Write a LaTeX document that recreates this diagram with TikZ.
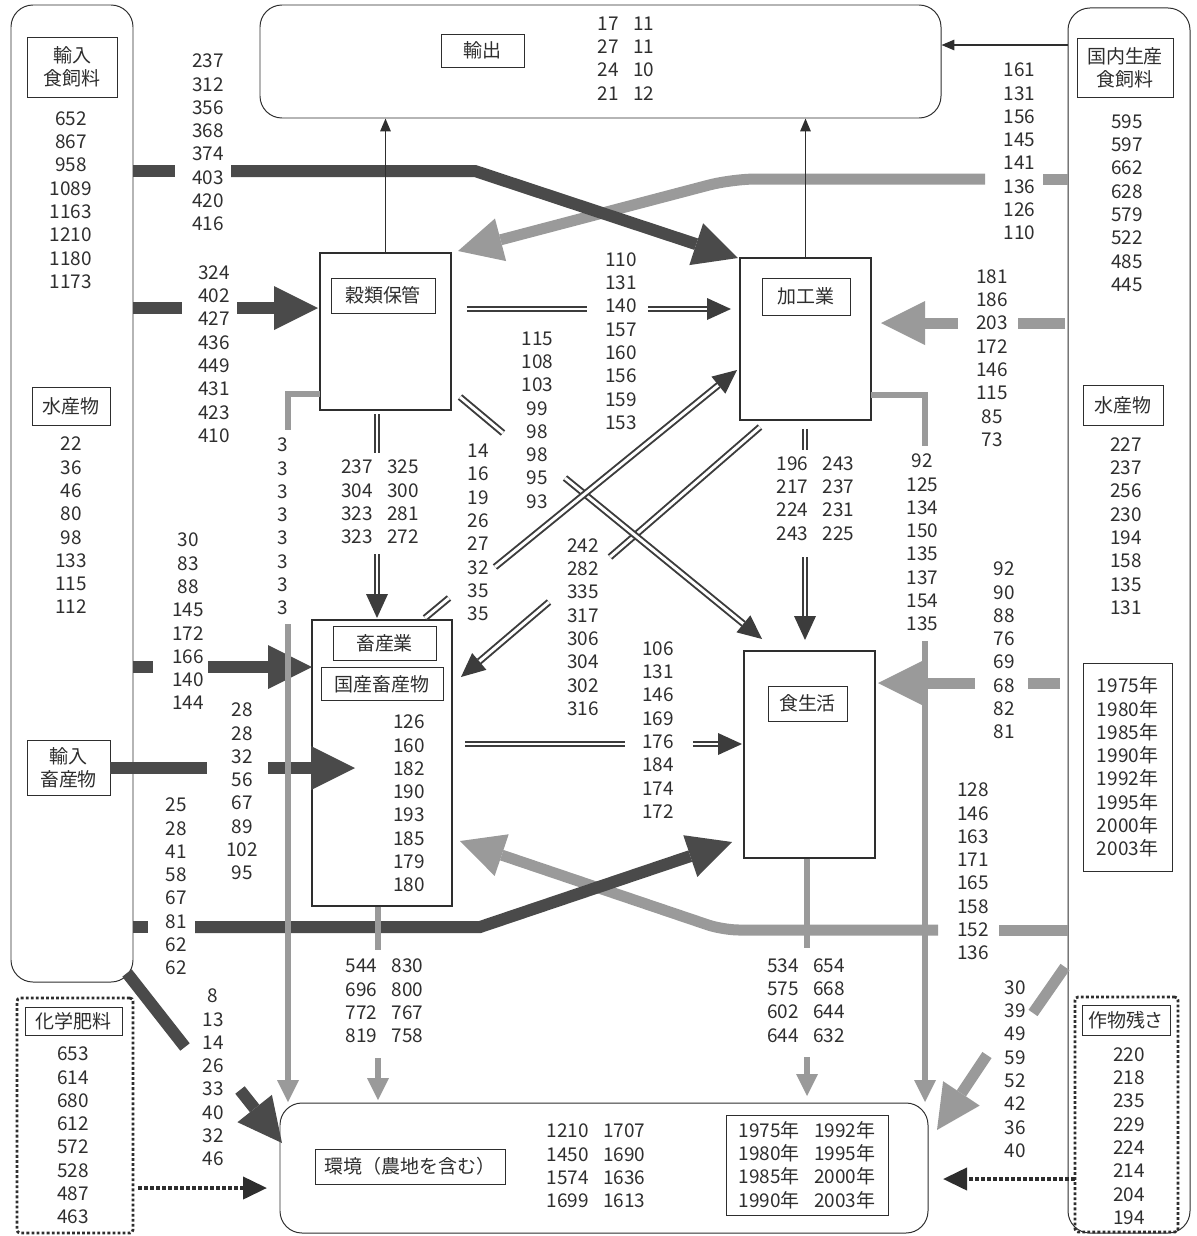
\documentclass[tikz,border=0pt]{standalone}
\usepackage{fontspec}
\setmainfont{Noto Sans CJK JP}
\usepackage{tikz}
\usetikzlibrary{arrows.meta}
\definecolor{ink}{HTML}{2E2E2E}
\definecolor{dkband}{HTML}{4A4A4A}
\definecolor{ltband}{HTML}{9A9A9A}
\definecolor{dblink}{HTML}{3C3C3C}
\newcommand{\colgap}{\hspace{0.75em}}

\begin{document}
\begin{tikzpicture}[x=0.25mm,y=-0.25mm,
  every node/.style={font=\fontsize{13.5}{16.57}\selectfont,text=ink,inner sep=0pt},
  nums/.style={align=center},
  panel/.style={draw=ink,line width=0.7pt,rounded corners=5.5mm},
  dotbox/.style={draw=ink,line width=2pt,dash pattern=on 2pt off 1.6pt,rounded corners=0.8mm},
  stage/.style={draw=ink,line width=1pt},
  tag/.style={draw=ink,line width=0.6pt,align=center},
  darkband/.style={dkband,line width=3mm},
  greyband/.style={ltband,line width=2.75mm},
  greyline/.style={ltband,line width=1.6mm},
  dblflow/.style={draw=dblink,double=white,line width=1.4pt,double distance=2.1pt},
  thinflow/.style={ink,line width=1pt,-{Triangle[length=3.2mm,width=2.6mm]}},
  dotflow/.style={ink,line width=1mm,dash pattern=on 0.9mm off 0.6mm,-{Triangle[length=6mm,width=5.5mm]}},
  bigtip/.style={-{Triangle[length=11mm,width=11mm,line width=0pt]}},
  midtip/.style={-{Triangle[length=6mm,width=5.5mm,line width=0pt]}},
  smalltip/.style={-{Triangle[length=5.5mm,width=5.5mm,line width=0pt]}}]
\useasboundingbox (0,0) rectangle (1197,1236);

\node[panel,minimum width=30.5mm,minimum height=244.25mm] (impL) at (72,493.5) {};
\node[panel,minimum width=170.25mm,minimum height=28.25mm] (expT) at (600.5,61.5) {};
\node[panel,minimum width=30.5mm,minimum height=306.25mm] (domR) at (1129,620.5) {};
\node[panel,minimum width=162mm,minimum height=32.5mm] (env) at (604,1168) {};
\node[dotbox,minimum width=29mm,minimum height=58.75mm] (chem) at (75,1115.5) {};
\node[dotbox,minimum width=25.75mm,minimum height=58.75mm] (resid) at (1126.5,1114.5) {};

\node[stage,minimum width=32.75mm,minimum height=39.25mm] (grain) at (385.5,331.5) {};
\node[stage,minimum width=32.75mm,minimum height=40.5mm] (proc) at (805.5,339) {};
\node[stage,minimum width=35mm,minimum height=71.5mm] (live) at (382,763) {};
\node[stage,minimum width=32.75mm,minimum height=51.75mm] (diet) at (809.5,754.5) {};

\node[tag,minimum width=22.5mm,minimum height=15mm] (impfeedL) at (72,67) {輸入\\食飼料};
\node[tag,minimum width=19.5mm,minimum height=9.5mm] (fishL) at (71,406) {水産物};
\node[tag,minimum width=20.75mm,minimum height=13.75mm] (impliveL) at (68.5,767.5) {輸入\\畜産物};
\node[tag,minimum width=20.75mm,minimum height=8.25mm] (exportL) at (482.5,50.5) {輸出};
\node[tag,minimum width=24mm,minimum height=14.75mm] (domfeedL) at (1125,67.5) {国内生産\\食飼料};
\node[tag,minimum width=20mm,minimum height=10mm] (fishR) at (1123,405) {水産物};
\node[tag,minimum width=22mm,minimum height=7.5mm] (residL) at (1126,1020) {作物残さ};
\node[tag,minimum width=24.25mm,minimum height=7mm] (chemL) at (73.5,1021) {化学肥料};
\node[tag,minimum width=26mm,minimum height=8.75mm] (grainL) at (383,295.5) {穀類保管};
\node[tag,minimum width=22mm,minimum height=9.25mm] (procL) at (806,296.5) {加工業};
\node[tag,minimum width=25.75mm,minimum height=8.5mm] (liveL) at (384.5,643) {畜産業};
\node[tag,minimum width=30.5mm,minimum height=8.25mm] (domliveL) at (382,684) {国産畜産物};
\node[tag,minimum width=19.75mm,minimum height=8.75mm] (dietL) at (807.5,703.5) {食生活};
\node[tag,minimum width=47.5mm,minimum height=8.75mm] (envL) at (410,1166.5) {環境（農地を含む）};
\node[tag,minimum width=22.25mm,minimum height=52mm] (legR) at (1127.5,767) {1975年\\1980年\\1985年\\1990年\\1992年\\1995年\\2000年\\2003年};
\node[tag,minimum width=40.5mm,minimum height=25mm] (legE) at (807,1165) {1975年\colgap1992年\\1980年\colgap1995年\\1985年\colgap2000年\\1990年\colgap2003年};

\path (175,171) coordinate (d1b) (231,171) coordinate (d1c) (475,171) coordinate (d1d) (738,258) coordinate (d1e)
      (182,308) coordinate (d2b) (237,308) coordinate (d2c) (318,308) coordinate (d2d)
      (153,667) coordinate (d3b) (208,667) coordinate (d3c) (312,667) coordinate (d3d)
      (207,768) coordinate (d4b) (268,768) coordinate (d4c) (355,768) coordinate (d4d)
      (148,927) coordinate (d5b) (195,927) coordinate (d5c) (480,927) coordinate (d5d) (732,842) coordinate (d5e)
      (127,973) coordinate (d6a) (185,1047) coordinate (d6b) (240,1090) coordinate (d6c) (282,1143) coordinate (d6d);
\path (1043,179) coordinate (g1b) (985,179) coordinate (g1c) (732,179) coordinate (g1d) (458,251) coordinate (g1e)
      (1065,323) coordinate (g2a) (1018,323) coordinate (g2b) (958,323) coordinate (g2c) (881,323) coordinate (g2d)
      (1060,683) coordinate (g3a) (1028,683) coordinate (g3b) (975,683) coordinate (g3c) (878,683) coordinate (g3d)
      (999,930) coordinate (g4b) (938,930) coordinate (g4c) (723,930) coordinate (g4d) (460,841) coordinate (g4e)
      (1065,967) coordinate (g5a) (1033,1013) coordinate (g5b) (987,1055) coordinate (g5c) (937,1130) coordinate (g5d);
\path (320,394) coordinate (l1a) (288,430) coordinate (l1b) (288,624) coordinate (l1c) (288,1102) coordinate (l1d)
      (871,395) coordinate (l2a) (925,446) coordinate (l2b) (925,641) coordinate (l2c) (925,1102) coordinate (l2d)
      (378,950) coordinate (l3b) (378,1058) coordinate (l3c) (378,1100) coordinate (l3d)
      (807,948) coordinate (l4b) (807,1057) coordinate (l4c) (807,1096) coordinate (l4d);
\path (467,309) coordinate (b1a) (587,309) coordinate (b1b) (648,309) coordinate (b1c) (731,309) coordinate (b1d)
      (377,414) coordinate (b2a) (377,453) coordinate (b2b) (377,554) coordinate (b2c) (377,618) coordinate (b2d)
      (460,397) coordinate (b3a) (503,433) coordinate (b3b) (565,478) coordinate (b3c) (762,639) coordinate (b3d)
      (425,618) coordinate (b4a) (449,598) coordinate (b4b) (495,567) coordinate (b4c) (737,370) coordinate (b4d)
      (760,427) coordinate (b5a) (610,557) coordinate (b5b) (549,602) coordinate (b5c) (461,677) coordinate (b5d)
      (805,429) coordinate (b6a) (805,450) coordinate (b6b) (805,557) coordinate (b6c) (805,640) coordinate (b6d)
      (465,744) coordinate (b7a) (625,744) coordinate (b7b) (693,744) coordinate (b7c) (742,744) coordinate (b7d);
\path (1000,45) coordinate (t3) (138,1188) coordinate (p1a) (267,1188) coordinate (p1b)
      (1075,1179) coordinate (p2a) (943,1179) coordinate (p2b);

\foreach \a in {g1b,g4b}{\draw[greyband] (domR.west |- \a)--(\a);}
\foreach \a/\b in {g2a/g2b,g3a/g3b,g5a/g5b}{\draw[greyband] (\a)--(\b);}
\draw[greyband,bigtip,rounded corners=6mm] (g1c)--(g1d)--(g1e);
\draw[greyband,bigtip] (g2c)--(g2d);
\draw[greyband,bigtip] (g3c)--(g3d);
\draw[greyband,bigtip,rounded corners=4mm] (g4c)--(g4d)--(g4e);
\draw[greyband,bigtip] (g5c)--(g5d);

\foreach \a in {d1b,d2b,d3b,d5b}{\draw[darkband] (impL.east |- \a)--(\a);}
\draw[darkband] (impliveL.east |- d4b)--(d4b);
\draw[darkband] (d6a)--(d6b);
\draw[darkband,bigtip] (d1c)--(d1d)--(d1e);
\draw[darkband,bigtip] (d2c)--(d2d);
\draw[darkband,bigtip] (d3c)--(d3d);
\draw[darkband,bigtip] (d4c)--(d4d);
\draw[darkband,bigtip] (d5c)--(d5d)--(d5e);
\draw[darkband,bigtip] (d6c)--(d6d);

\foreach \a/\b in {b1a/b1b,b2a/b2b,b3a/b3b,b4a/b4b,b5a/b5b,b6a/b6b,b7a/b7b}{\draw[dblflow] (\a)--(\b);}
\foreach \a/\b in {b1c/b1d,b2c/b2d,b3c/b3d,b4c/b4d,b5c/b5d,b6c/b6d,b7c/b7d}{\draw[dblflow,midtip] (\a)--(\b);}

\draw[thinflow] (grain.north) -- (grain.north |- expT.south);
\draw[thinflow] (proc.north) -- (proc.north |- expT.south);
\draw[thinflow] (domR.west |- t3) -- (expT.east |- t3);

\draw[greyline] (l1a) -| (l1b);
\draw[greyline,smalltip] (l1c) -- (l1d);
\draw[greyline] (l2a) -| (l2b);
\draw[greyline,smalltip] (l2c) -- (l2d);
\draw[greyline] (live.south -| l3b) -- (l3b);
\draw[greyline,smalltip] (l3c) -- (l3d);
\draw[greyline] (diet.south -| l4b) -- (l4b);
\draw[greyline,smalltip] (l4c) -- (l4d);

\draw[dotflow] (p1a) -- (p1b);
\draw[dotflow] (p2a) -- (p2b);

\node[nums] (nImpFeed) at (71,200) {652\\867\\958\\1089\\1163\\1210\\1180\\1173};
\node[nums] (nImpFish) at (71,525.5) {22\\36\\46\\80\\98\\133\\115\\112};
\node[nums] (nExport) at (626,58.5) {17\colgap11\\27\colgap11\\24\colgap10\\21\colgap12};
\node[nums] (nFeedProc) at (208,142.5) {237\\312\\356\\368\\374\\403\\420\\416};
\node[nums] (nFeedGrain) at (214,354) {324\\402\\427\\436\\449\\431\\423\\410};
\node[nums] (nGrainEnv) at (283,526.5) {3\\3\\3\\3\\3\\3\\3\\3};
\node[nums] (nGrainLive) at (380,502) {237\colgap325\\304\colgap300\\323\colgap281\\323\colgap272};
\node[nums] (nFishLive) at (188,621.5) {30\\83\\88\\145\\172\\166\\140\\144};
\node[nums] (nImpLive) at (242,791.5) {28\\28\\32\\56\\67\\89\\102\\95};
\node[nums] (nImpDiet) at (176,886.5) {25\\28\\41\\58\\67\\81\\62\\62};
\node[nums] (nImpEnv) at (213,1077.5) {8\\13\\14\\26\\33\\40\\32\\46};
\node[nums] (nLiveOut) at (409,803.5) {126\\160\\182\\190\\193\\185\\179\\180};
\node[nums] (nLiveEnv) at (384.5,1001) {544\colgap830\\696\colgap800\\772\colgap767\\819\colgap758};
\node[nums] (nChem) at (73,1135.5) {653\\614\\680\\612\\572\\528\\487\\463};
\node[nums] (nGrainDiet) at (537.5,420) {115\\108\\103\\99\\98\\98\\95\\93};
\node[nums] (nLiveProc) at (478,532.5) {14\\16\\19\\26\\27\\32\\35\\35};
\node[nums] (nGrainProc) at (621,341) {110\\131\\140\\157\\160\\156\\159\\153};
\node[nums] (nProcLive) at (583,627) {242\\282\\335\\317\\306\\304\\302\\316};
\node[nums] (nLiveDiet) at (658,730) {106\\131\\146\\169\\176\\184\\174\\172};
\node[nums] (nDietEnv) at (806,1000.5) {534\colgap654\\575\colgap668\\602\colgap644\\644\colgap632};
\node[nums] (nEnv) at (596,1166) {1210\colgap1707\\1450\colgap1690\\1574\colgap1636\\1699\colgap1613};
\node[nums] (nDomGrain) at (1019.5,151.5) {161\\131\\156\\145\\141\\136\\126\\110};
\node[nums] (nDomProc) at (992,358) {181\\186\\203\\172\\146\\115\\85\\73};
\node[nums] (nDomFeed) at (1127,203) {595\\597\\662\\628\\579\\522\\485\\445};
\node[nums] (nDomFish) at (1126,526) {227\\237\\256\\230\\194\\158\\135\\131};
\node[nums] (nProcDiet) at (815.5,498.5) {196\colgap243\\217\colgap237\\224\colgap231\\243\colgap225};
\node[nums] (nProcEnv) at (922.5,542.5) {92\\125\\134\\150\\135\\137\\154\\135};
\node[nums] (nFishDiet) at (1004,650.5) {92\\90\\88\\76\\69\\68\\82\\81};
\node[nums] (nDomLive) at (973,871.5) {128\\146\\163\\171\\165\\158\\152\\136};
\node[nums] (nResEnv) at (1015,1069) {30\\39\\49\\59\\52\\42\\36\\40};
\node[nums] (nResid) at (1129,1136) {220\\218\\235\\229\\224\\214\\204\\194};
\end{tikzpicture}
\end{document}
